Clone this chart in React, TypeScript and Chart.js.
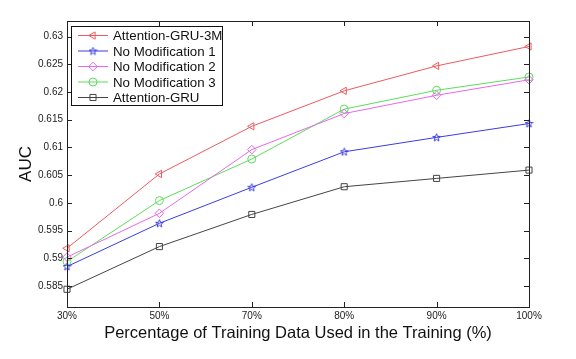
import React, { useEffect, useRef } from "react";
import { Chart, registerables } from "chart.js";
import { drawPoint } from "chart.js/helpers";

Chart.register(...registerables);

const categories = ["30%", "50%", "70%", "80%", "90%", "100%"];
const attention3M = [0.5918, 0.6052, 0.6138, 0.6202, 0.6247, 0.6282];
const noMod1 = [0.5885, 0.5963, 0.6028, 0.6092, 0.6118, 0.6143];
const noMod2 = [0.5902, 0.5981, 0.6096, 0.6161, 0.6194, 0.6222];
const noMod3 = [0.5894, 0.6004, 0.6079, 0.6169, 0.6203, 0.6227];
const attentionGRU = [0.5844, 0.5921, 0.5979, 0.6029, 0.6044, 0.6059];
const yTicks = [0.585, 0.59, 0.595, 0.6, 0.605, 0.61, 0.615, 0.62, 0.625, 0.63];
const seriesNames = ["Attention-GRU-3M", "No Modification 1", "No Modification 2", "No Modification 3", "Attention-GRU"];

function makeStar(color: string): HTMLCanvasElement {
  const c = document.createElement("canvas");
  c.width = 9;
  c.height = 9;
  const ctx = c.getContext("2d")!;
  ctx.strokeStyle = color;
  ctx.lineWidth = 1;
  ctx.beginPath();
  const cx = 4.5, cy = 4.8, R = 4, r = 1.7;
  for (let i = 0; i < 10; i++) {
    const rad = i % 2 === 0 ? R : r;
    const a = -Math.PI / 2 + (i * Math.PI) / 5;
    const x = cx + rad * Math.cos(a);
    const y = cy + rad * Math.sin(a);
    if (i === 0) ctx.moveTo(x, y);
    else ctx.lineTo(x, y);
  }
  ctx.closePath();
  ctx.stroke();
  return c;
}

const frameTicksPlugin = {
  id: "frameTicks",
  afterDraw(chart: any) {
    const { ctx, chartArea } = chart;
    const { left, right, top, bottom } = chartArea;
    const xs = chart.scales.x;
    const ys = chart.scales.y;
    ctx.save();
    ctx.strokeStyle = "#222";
    ctx.lineWidth = 1;
    ctx.strokeRect(left + 0.5, top + 0.5, right - left, bottom - top);
    ctx.beginPath();
    const tl = 5;
    for (let i = 0; i < categories.length; i++) {
      const x = Math.round(xs.getPixelForValue(i)) + 0.5;
      ctx.moveTo(x, bottom);
      ctx.lineTo(x, bottom - tl);
      ctx.moveTo(x, top);
      ctx.lineTo(x, top + tl);
    }
    for (const v of yTicks) {
      const y = Math.round(ys.getPixelForValue(v)) + 0.5;
      ctx.moveTo(left, y);
      ctx.lineTo(left + tl, y);
      ctx.moveTo(right, y);
      ctx.lineTo(right - tl, y);
    }
    ctx.stroke();

    // legend
    const lx = left + 4, ly = top + 5, lw = 151, lh = 79;
    ctx.fillStyle = "#fff";
    ctx.fillRect(lx, ly, lw, lh);
    ctx.strokeStyle = "#111";
    ctx.lineWidth = 1;
    ctx.strokeRect(lx + 0.5, ly + 0.5, lw, lh);
    ctx.font = "13.3px 'Liberation Sans', Arial, sans-serif";
    ctx.textBaseline = "middle";
    ctx.textAlign = "left";
    chart.data.datasets.forEach((ds: any, i: number) => {
      const y = ly + 9.5 + i * 15.5;
      ctx.strokeStyle = ds.borderColor;
      ctx.lineWidth = 1;
      ctx.beginPath();
      ctx.moveTo(lx + 7, y);
      ctx.lineTo(lx + 37, y);
      ctx.stroke();
      ctx.strokeStyle = ds.pointBorderColor;
      ctx.fillStyle = "rgba(0,0,0,0)";
      drawPoint(ctx, { pointStyle: ds.pointStyle, radius: ds.pointRadius, rotation: ds.pointRotation || 0, borderWidth: 1 }, lx + 22, y);
      ctx.fillStyle = "#111";
      ctx.fillText(ds.label, lx + 42, y + 1);
    });
    ctx.restore();
  },
};

export default function App() {
  const ref = useRef<HTMLCanvasElement>(null);
  useEffect(() => {
    const colors = ["#ee5a5e", "#3b3be6", "#ea66ea", "#5ade5a", "#444444"];
    const styles: any[] = ["triangle", makeStar(colors[1]), "rectRot", "circle", "rect"];
    const rotations = [-90, 0, 0, 0, 0];
    const radii = [4.2, 4, 4.3, 4, 4.3];
    const values = [attention3M, noMod1, noMod2, noMod3, attentionGRU];
    const chart = new Chart(ref.current!, {
      type: "line",
      data: {
        labels: categories,
        datasets: values.map((d, i) => ({
          label: seriesNames[i],
          data: d,
          borderColor: colors[i],
          pointBorderColor: colors[i],
          pointBackgroundColor: "rgba(0,0,0,0)",
          borderWidth: 1,
          pointStyle: styles[i],
          pointRotation: rotations[i],
          pointRadius: radii[i],
          pointBorderWidth: 1,
          tension: 0,
          fill: false,
        })),
      },
      options: {
        animation: false,
        responsive: false,
        devicePixelRatio: 1,
        layout: { padding: { left: 0, top: 21, right: 47, bottom: 0 } },
        plugins: { legend: { display: false }, tooltip: { enabled: false } },
        scales: {
          x: {
            type: "category",
            offset: false,
            grid: { display: false, drawTicks: false },
            border: { display: false },
            ticks: { color: "#222", font: { size: 10, family: "'Liberation Sans', Arial, sans-serif" }, padding: 3, maxRotation: 0, autoSkip: false },
            title: { display: true, text: "Percentage of Training Data Used in the Training (%)", color: "#111", font: { size: 16.5, family: "'Liberation Sans', Arial, sans-serif" }, padding: { top: 2, bottom: 16 } },
            afterFit: (s: any) => { s.height = 52; },
          },
          y: {
            min: 0.5812,
            max: 0.6328,
            grid: { display: false, drawTicks: false },
            border: { display: false },
            afterBuildTicks: (s: any) => { s.ticks = yTicks.map((v) => ({ value: v })); },
            ticks: {
              color: "#222",
              font: { size: 10, family: "'Liberation Sans', Arial, sans-serif" },
              padding: 4,
              callback: (v: any) => String(Number(Number(v).toFixed(3))),
            },
            title: { display: true, text: "AUC", color: "#111", font: { size: 17, family: "'Liberation Sans', Arial, sans-serif" }, padding: { top: 16, bottom: 0 } },
            afterFit: (s: any) => { s.width = 67; },
          },
        },
      },
      plugins: [frameTicksPlugin],
    });
    return () => chart.destroy();
  }, []);
  return (
    <div style={{ position: "fixed", left: 0, top: 0, width: 576, height: 359, background: "#fff" }}>
      <canvas ref={ref} width={576} height={359} style={{ width: 576, height: 359 }} />
    </div>
  );
}
